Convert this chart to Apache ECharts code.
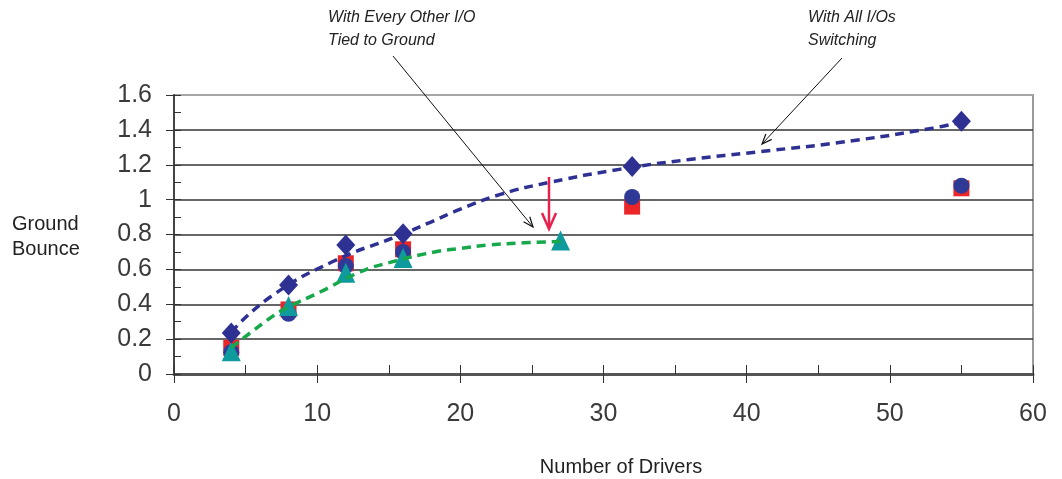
<!DOCTYPE html>
<html>
<head>
<meta charset="utf-8">
<script src="https://cdn.jsdelivr.net/npm/echarts@6/dist/echarts.min.js"></script>
<style>
  html, body { margin: 0; padding: 0; background: #fff; }
  #chart { width: 1062px; height: 479px; }
</style>
</head>
<body>
<div id="chart"></div>
<script>
// ---- data ----
const drivers = [4, 8, 12, 16, 32, 55];
const allSwitching = [0.235, 0.51, 0.74, 0.805, 1.19, 1.45];   // diamonds
const squareSeries = [0.15, 0.37, 0.635, 0.715, 0.96, 1.065];  // red squares
const circleSeries = [0.125, 0.345, 0.62, 0.70, 1.015, 1.08];  // navy circles
const tiedDrivers = [4, 8, 12, 16, 27];
const tiedGround = [0.13, 0.39, 0.58, 0.665, 0.765];            // teal triangles

const trendAllX = [4, 6.7, 11.1, 15.6, 17.9, 20, 22.8, 26.3, 31.2, 36, 40.9, 46.7, 53, 55];
const trendAllY = [0.24, 0.44, 0.645, 0.79, 0.87, 0.945, 1.03, 1.10, 1.175, 1.23, 1.275, 1.33, 1.41, 1.445];
const trendTiedX = [4, 6.7, 7.9, 10.2, 13, 15.1, 18.2, 20, 22, 24.4, 27];
const trendTiedY = [0.15, 0.32, 0.38, 0.47, 0.585, 0.64, 0.70, 0.72, 0.74, 0.752, 0.76];

const xTicks = [0, 10, 20, 30, 40, 50, 60];
const yTicks = [0, 0.2, 0.4, 0.6, 0.8, 1, 1.2, 1.4, 1.6];

const pairs = (xs, ys) => xs.map((x, i) => [x, ys[i]]);

function arrowHead(x1, y1, x2, y2, len, half) {
  const dx = x2 - x1, dy = y2 - y1;
  const L = Math.hypot(dx, dy);
  const ux = dx / L, uy = dy / L;
  const px = -uy, py = ux;
  const bx = x2 - ux * len, by = y2 - uy * len;
  return [[bx + px * half, by + py * half], [x2, y2], [bx - px * half, by - py * half]];
}

const chart = echarts.init(document.getElementById('chart'));
const FONT = "'Liberation Sans', Arial, sans-serif";
const gridColors = yTicks.map((v, i) => i === yTicks.length - 1 ? '#aaaaaa' : '#333333');

const option = {
  backgroundColor: '#ffffff',
  animation: false,
  grid: { left: 174, top: 95, width: 859, height: 279, show: true, borderColor: '#9a9a9a', borderWidth: 2, backgroundColor: 'transparent' },
  xAxis: [
    {
      type: 'value', min: xTicks[0], max: xTicks[xTicks.length - 1], interval: 10,
      axisLine: { show: true, lineStyle: { color: '#555', width: 3 } },
      axisTick: { show: true, length: 9, lineStyle: { color: '#333', width: 1 } },
      axisLabel: { fontSize: 25, color: '#3a3a3a', fontFamily: FONT, margin: 28 },
      splitLine: { show: false }
    },
    {
      type: 'value', min: xTicks[0], max: xTicks[xTicks.length - 1], interval: 5, position: 'bottom',
      axisLine: { show: false },
      axisTick: { show: true, inside: true, length: 9, lineStyle: { color: '#333', width: 1 } },
      axisLabel: { show: false },
      splitLine: { show: false }
    }
  ],
  yAxis: [
    {
      type: 'value', min: 0, max: 1.6, interval: 0.2,
      axisLine: { show: true, lineStyle: { color: '#444', width: 2 } },
      axisTick: { show: true, length: 8, lineStyle: { color: '#333', width: 1 } },
      axisLabel: { fontSize: 25, color: '#3a3a3a', fontFamily: FONT, margin: 22,
        formatter: v => String(Math.round(v * 10) / 10) },
      splitLine: { show: true, lineStyle: { color: gridColors, width: 1.5 } }
    },
    {
      type: 'value', min: 0, max: 1.6, interval: 0.1, position: 'left',
      axisLine: { show: false },
      axisTick: { show: true, inside: true, length: 7, lineStyle: { color: '#333', width: 1 } },
      axisLabel: { show: false },
      splitLine: { show: false }
    }
  ],
  series: [
    { name: 'squares', type: 'scatter', data: pairs(drivers, squareSeries), symbol: 'rect', symbolSize: 16,
      itemStyle: { color: '#EC2529', opacity: 1 }, z: 2 },
    { name: 'circles', type: 'scatter', data: pairs(drivers, circleSeries), symbol: 'circle', symbolSize: 16,
      itemStyle: { color: '#2F3A96', opacity: 1 }, z: 2 },
    { name: 'tied', type: 'scatter', data: pairs(tiedDrivers, tiedGround), symbol: 'triangle', symbolSize: [19, 20],
      itemStyle: { color: '#0F9A9E', opacity: 1 }, z: 2 },
    { name: 'all', type: 'scatter', data: pairs(drivers, allSwitching), symbol: 'diamond', symbolSize: [19, 21],
      itemStyle: { color: '#2E3192', opacity: 1 }, z: 2 },
    { name: 'trendAll', type: 'line', data: pairs(trendAllX, trendAllY), smooth: 0.5, showSymbol: false, symbol: 'none',
      lineStyle: { color: '#2E3192', width: 3.5, type: [9, 6] }, z: 3 },
    { name: 'trendTied', type: 'line', data: pairs(trendTiedX, trendTiedY), smooth: 0.5, showSymbol: false, symbol: 'none',
      lineStyle: { color: '#17A84B', width: 3.5, type: [9, 6] }, z: 3 }
  ],
  graphic: [
    { type: 'text', left: 12, top: 212, style: { text: 'Ground\nBounce', font: "20px 'Liberation Sans', Arial, sans-serif", fill: '#222', lineHeight: 25 } },
    { type: 'text', x: 621, y: 467, style: { text: 'Number of Drivers', font: "20px 'Liberation Sans', Arial, sans-serif", fill: '#222', align: 'center', verticalAlign: 'middle' } },
    { type: 'text', left: 328, top: 6, style: { text: 'With Every Other I/O\nTied to Ground', font: "italic 16px 'Liberation Sans', Arial, sans-serif", fill: '#222', lineHeight: 23 } },
    { type: 'text', left: 808, top: 6, style: { text: 'With All I/Os\nSwitching', font: "italic 16px 'Liberation Sans', Arial, sans-serif", fill: '#222', lineHeight: 23 } },
    { type: 'line', shape: { x1: 393, y1: 56, x2: 533, y2: 227 }, style: { stroke: '#111', lineWidth: 1 }, z: 10 },
    { type: 'polyline', shape: { points: arrowHead(393, 56, 533, 227, 10, 4) }, style: { stroke: '#111', lineWidth: 1.2, fill: null }, z: 10 },
    { type: 'line', shape: { x1: 842, y1: 58, x2: 762, y2: 144 }, style: { stroke: '#111', lineWidth: 1 }, z: 10 },
    { type: 'polyline', shape: { points: arrowHead(842, 58, 762, 144, 10, 4) }, style: { stroke: '#111', lineWidth: 1.2, fill: null }, z: 10 },
    { type: 'line', shape: { x1: 549, y1: 177, x2: 549, y2: 228 }, style: { stroke: '#E8204E', lineWidth: 2.5 }, z: 10 },
    { type: 'polyline', shape: { points: [[542, 213], [549, 229], [556, 213]] }, style: { stroke: '#E8204E', lineWidth: 2.5, fill: null }, z: 10 }
  ]
};
chart.setOption(option);
</script>
</body>
</html>
